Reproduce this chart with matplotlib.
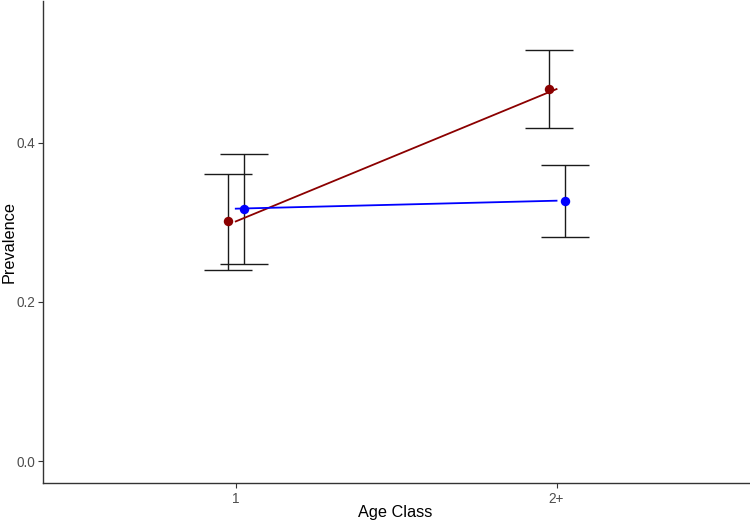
import matplotlib
matplotlib.use("Agg")
import matplotlib.pyplot as plt
import numpy as np

plt.rcParams['font.family'] = ['Liberation Sans', 'DejaVu Sans']

categories = ["1", "2+"]
red_prev = [0.301, 0.467]
red_low = [0.240, 0.418]
red_high = [0.360, 0.516]
blue_prev = [0.317, 0.327]
blue_low = [0.248, 0.282]
blue_high = [0.386, 0.372]

dodge = 0.025
xpos = np.arange(1, len(categories) + 1)

W, H = 750, 522
fig = plt.figure(figsize=(7.5, 5.22), dpi=100)
L, R, B, T = 43.3, 749, 483.3, 1
ax = fig.add_axes([L / W, (H - B) / H, (R - L) / W, (B - T) / H])

red = "#8B0000"
blue = "#0000FF"
ebc = "#1a1a1a"

for prev, lo, hi, col, off in [(red_prev, red_low, red_high, red, -dodge),
                               (blue_prev, blue_low, blue_high, blue, dodge)]:
    prev = np.array(prev); lo = np.array(lo); hi = np.array(hi)
    ax.errorbar(xpos + off, prev, yerr=[prev - lo, hi - prev], fmt='none',
                ecolor=ebc, elinewidth=1.0, capsize=17.3, capthick=1.0, zorder=2)
    ax.plot(xpos, prev, color=col, lw=1.3, zorder=3)
    ax.plot(xpos + off, prev, 'o', color=col, markersize=6.8, zorder=4, markeredgewidth=0)

ax.set_xlim(0.4, 2.6)
ax.set_ylim(-0.0275, 0.5775)
ax.set_xticks(xpos)
ax.set_xticklabels(categories)
ax.set_yticks([0.0, 0.2, 0.4])
ax.set_yticklabels(["0.0", "0.2", "0.4"])

for s in ["top", "right"]:
    ax.spines[s].set_visible(False)
for s in ["left", "bottom"]:
    ax.spines[s].set_color("#333333")
    ax.spines[s].set_linewidth(1.0)

ax.tick_params(axis='both', colors="#333333", length=3.5, width=0.8, labelsize=9.8,
               labelcolor="#4D4D4D")
ax.tick_params(axis='x', pad=3.0)
ax.tick_params(axis='y', pad=2.5)

ax.set_xlabel("Age Class", fontsize=11.7, color="black", va='center', ha='center')
ax.xaxis.set_label_coords((395 - L) / (R - L), (B - 512) / (B - T))
ax.set_ylabel("Prevalence", fontsize=11.7, color="black", va='center', ha='center')
ax.yaxis.set_label_coords((9 - L) / (R - L), (B - 242) / (B - T))

fig.savefig("out.png", dpi=100)
